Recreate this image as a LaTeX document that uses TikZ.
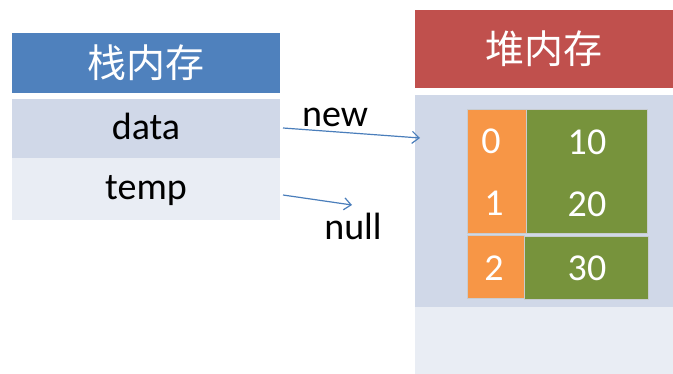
\documentclass[tikz,border=0pt]{standalone}
\usepackage{fontspec}
\setmainfont{Carlito}
\newfontfamily\cjk{Noto Sans CJK SC}
\usetikzlibrary{arrows.meta,calc}
\definecolor{hdrblue}{HTML}{4F81BD}
\definecolor{hdrred}{HTML}{C0504D}
\definecolor{rowdark}{HTML}{D0D8E8}
\definecolor{rowlight}{HTML}{E9EDF4}
\definecolor{idxorange}{HTML}{F79646}
\definecolor{valgreen}{HTML}{77933C}
\definecolor{arrowblue}{HTML}{4A7EBB}
\definecolor{cellline}{HTML}{C8CCD0}
\tikzset{
  box/.style={rectangle, inner sep=0pt, outer sep=0pt},
  header/.style={box, text=white, font=\cjk\fontsize{39}{44}\selectfont},
  row/.style={box, text=black, text height=28pt, text depth=6pt, font=\fontsize{38}{44}\selectfont},
  idx/.style={box, fill=idxorange, draw=cellline, line width=0.6pt},
  val/.style={box, fill=valgreen, draw=cellline, line width=0.6pt},
  num/.style={text=white, inner sep=0pt, font=\fontsize{38}{44}\selectfont},
  label/.style={text=black, inner sep=0pt, font=\fontsize{38}{44}\selectfont},
  ref/.style={draw=arrowblue, line width=1.2pt, -{Straight Barb[length=7pt,width=12pt]}},
}
\begin{document}
\begin{tikzpicture}[x=1pt,y=-1pt]
  \useasboundingbox (0,0) rectangle (673,374);
  \fill[white] (0,0) rectangle (673,374);

  % stack memory
  \node[header, fill=hdrblue, minimum width=268pt, minimum height=60pt] (stack) at (146,63) {栈内存};
  \node[row, fill=rowdark, minimum width=268pt, minimum height=59pt] (data) at (146,128.5) {data};
  \node[row, fill=rowlight, minimum width=268pt, minimum height=62pt] (temp) at (146,189) {temp};

  % heap memory
  \node[header, fill=hdrred, minimum width=258pt, minimum height=78pt] (heap) at (544,49) {堆内存};
  \node[box, fill=rowdark, minimum width=258pt, minimum height=212pt] (heapbody) at (544,201) {};
  \node[box, fill=rowlight, minimum width=258pt, minimum height=67pt] (heapfree) at (544,340.5) {};

  % array object
  \node[idx, minimum width=59pt, minimum height=124pt] (i01) at (496.5,171) {};
  \node[val, minimum width=121pt, minimum height=124pt] (v01) at (586.5,171) {};
  \node[idx, minimum width=57pt, minimum height=63pt] (i2) at (495.5,266.5) {};
  \node[val, minimum width=124pt, minimum height=63pt] (v2) at (586,267.5) {};

  \node[num] (n0) at (491,141) {0};
  \node[num] (n1) at (494,203) {1};
  \node[num] (n2) at (494,268) {2};
  \node[num] (n10) at (587,142) {10};
  \node[num] (n20) at (587,204) {20};
  \node[num] (n30) at (587,268) {30};

  % references
  \coordinate (tipA) at (420,138);
  \coordinate (tipB) at (352,205);
  \draw[ref] ($(data.east)+(3,-0.5)$) -- (tipA);
  \draw[ref] ($(temp.east)+(3,6)$) -- (tipB);
  \node[label] (new) at (335,117) {new};
  \node[label] (null) at (353,226) {null};
\end{tikzpicture}
\end{document}
